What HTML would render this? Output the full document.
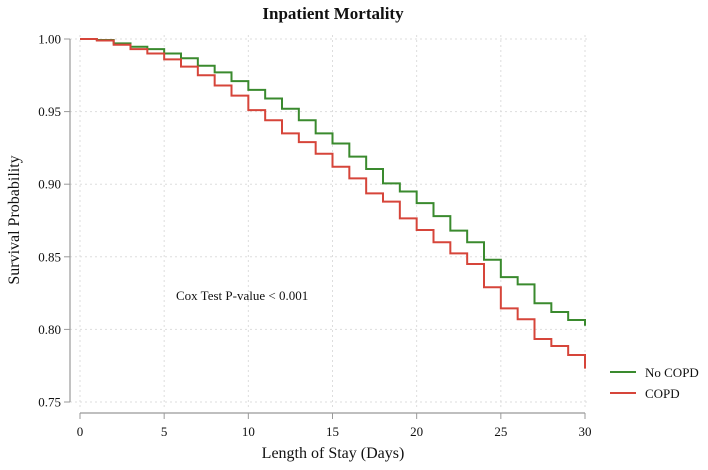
<!DOCTYPE html>
<html><head><meta charset="utf-8"><style>body{margin:0;background:#fff}svg{display:block;font-family:"Liberation Serif",serif}</style></head><body>
<svg id="chart" width="708" height="470">
<text x="333" y="19" text-anchor="middle" font-size="17" font-weight="bold" fill="#111">Inpatient Mortality</text>
<g id="grid"></g><g id="axes"></g><g id="series"></g>
<text x="176" y="300" font-size="13" fill="#111">Cox Test P-value  &lt; 0.001</text>
<text transform="translate(19,220) rotate(-90)" text-anchor="middle" font-size="16" fill="#111">Survival Probability</text>
<text x="333" y="458" text-anchor="middle" font-size="16" fill="#111">Length of Stay (Days)</text>
<g>
<line x1="610" x2="636" y1="372" y2="372" stroke="#3a8a2e" stroke-width="2"/>
<text x="645" y="377" font-size="13" fill="#111">No COPD</text>
<line x1="610" x2="636" y1="393" y2="393" stroke="#d6453a" stroke-width="2"/>
<text x="645" y="398" font-size="13" fill="#111">COPD</text>
</g>
</svg>
<script>
const days=[0,1,2,3,4,5,6,7,8,9,10,11,12,13,14,15,16,17,18,19,20,21,22,23,24,25,26,27,28,29,30];
const noCopd=[1.000,0.9993,0.997,0.9947,0.993,0.990,0.9867,0.9816,0.977,0.971,0.965,0.959,0.952,0.944,0.935,0.928,0.919,0.9105,0.9006,0.895,0.887,0.878,0.868,0.860,0.848,0.836,0.831,0.818,0.812,0.8065,0.8025];
const copd=[1.000,0.999,0.996,0.993,0.990,0.986,0.981,0.975,0.968,0.961,0.951,0.944,0.935,0.929,0.921,0.912,0.904,0.8937,0.888,0.8765,0.8685,0.860,0.8524,0.845,0.829,0.8145,0.807,0.7934,0.7886,0.7824,0.773];
const xTicks=[0,5,10,15,20,25,30];
const yTicks=[0.75,0.80,0.85,0.90,0.95,1.00];
const NS='http://www.w3.org/2000/svg';
const X=d=>80+d*(505/30), Y=v=>39+(1-v)*(363/0.25);
function mk(t,a,p){const e=document.createElementNS(NS,t);for(const k in a)e.setAttribute(k,a[k]);p.appendChild(e);return e;}
const grid=document.getElementById('grid'),axes=document.getElementById('axes'),ser=document.getElementById('series');
mk('line',{x1:70,x2:70,y1:39,y2:402,stroke:'#999','stroke-width':1.2},axes);
mk('line',{x1:80,x2:585,y1:413,y2:413,stroke:'#999','stroke-width':1.2},axes);
yTicks.forEach(v=>{const y=Y(v);
const g=mk('line',{x1:70,x2:590,y1:y,y2:y,stroke:'#ddd','stroke-dasharray':'2,3'},grid);


mk('line',{x1:64,x2:70,y1:y,y2:y,stroke:'#999'},axes);
const t=mk('text',{x:61,y:y+4.5,'text-anchor':'end','font-size':13,fill:'#111'},axes);t.textContent=v.toFixed(2);

});
xTicks.forEach(d=>{const x=X(d);
const g=mk('line',{x1:x,x2:x,y1:35,y2:408,stroke:'#ddd','stroke-dasharray':'2,3'},grid);


mk('line',{x1:x,x2:x,y1:413,y2:419,stroke:'#999'},axes);
const t=mk('text',{x:x,y:436,'text-anchor':'middle','font-size':13,fill:'#111'},axes);t.textContent=d;

});
function step(vals,col,name){let d='M'+X(days[0])+','+Y(vals[0]);
for(let i=1;i<days.length;i++){d+=' H'+X(days[i])+' V'+Y(vals[i]);}
const p=mk('path',{d:d,fill:'none',stroke:col,'stroke-width':2},ser);

}
step(noCopd,'#3a8a2e','no-copd-curve');
step(copd,'#d6453a','copd-curve');
</script>
</body></html>
